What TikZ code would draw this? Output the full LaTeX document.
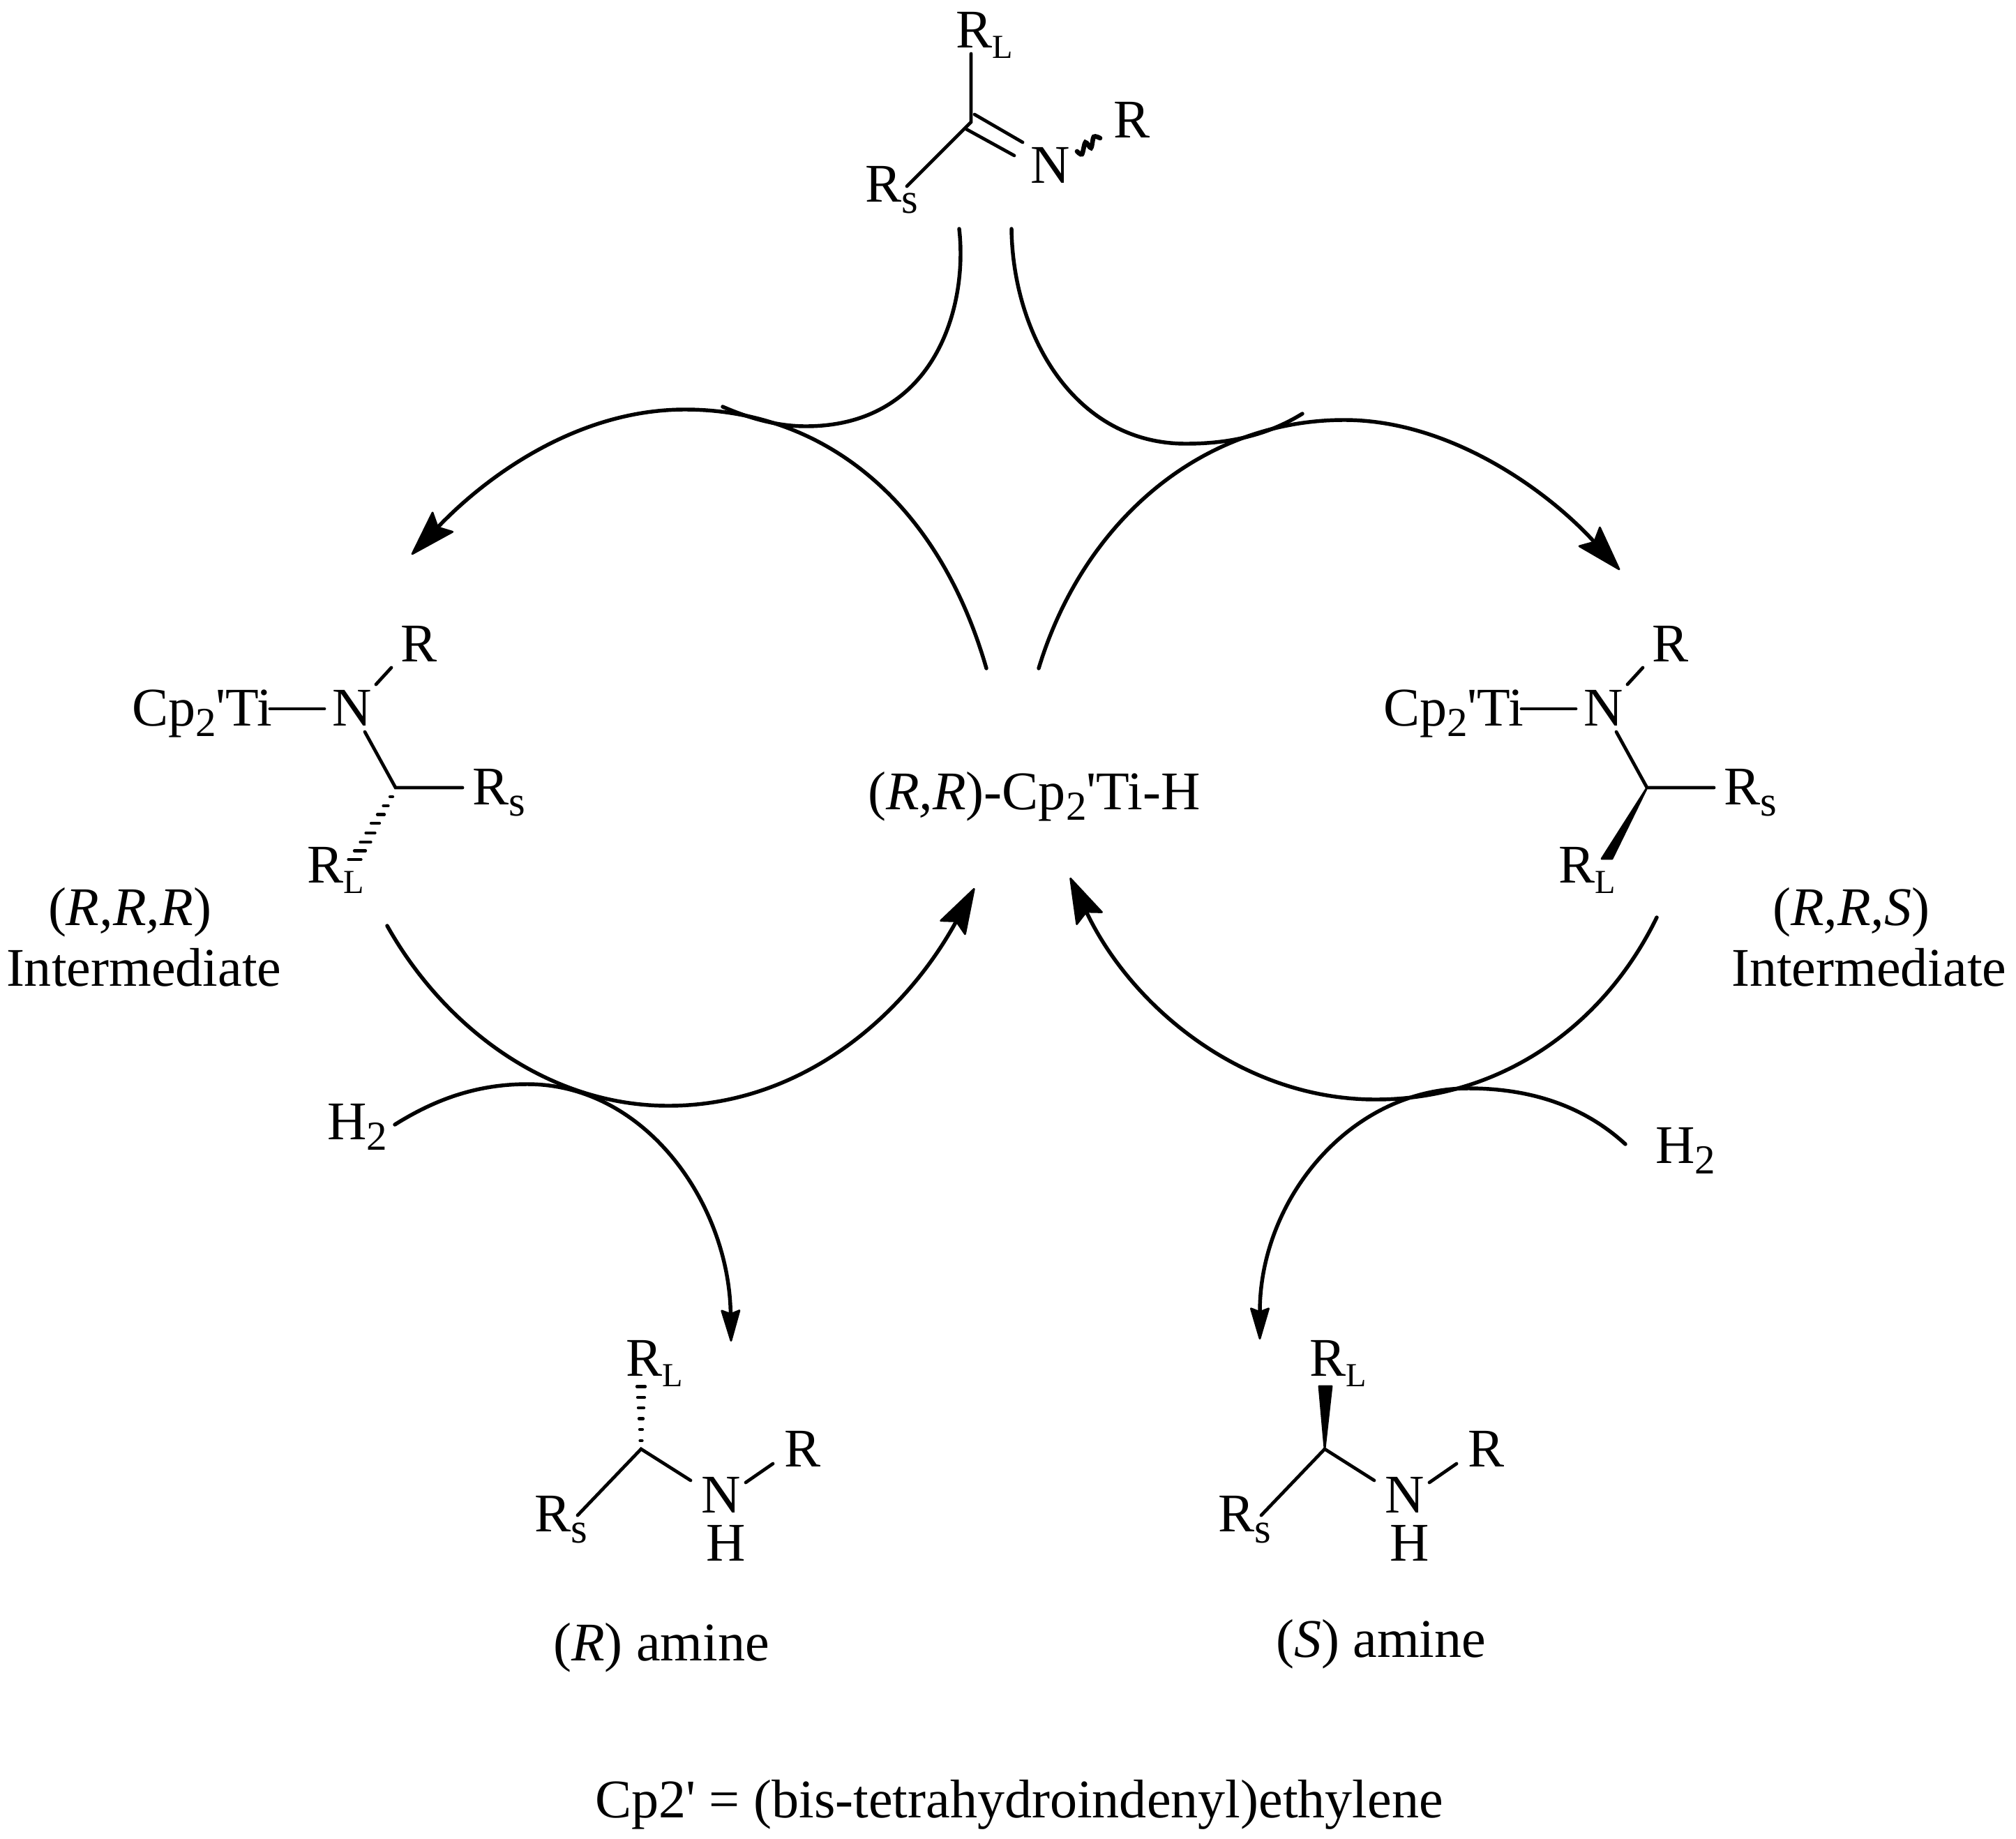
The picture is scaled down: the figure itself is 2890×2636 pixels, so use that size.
\documentclass[tikz,border=0pt]{standalone}
\usepackage{fontspec}
\setmainfont{Liberation Serif}[Ligatures=TeXOff]
\usetikzlibrary{arrows.meta}
\newcommand{\tikzpx}{\dimexpr 0.01cm\relax}
\newcommand{\subL}{\raisebox{-15\tikzpx}{\fontsize{13.7}{14}\selectfont L}}
\newcommand{\subS}{\raisebox{-16\tikzpx}{\fontsize{17.3}{18}\selectfont s}}
\newcommand{\subT}{\raisebox{-15\tikzpx}{\fontsize{16.8}{17}\selectfont 2}}
\tikzset{
  lbl/.style={anchor=base west,inner sep=0pt,outer sep=0pt,font=\fontsize{22.2}{26}\selectfont},
  bond/.style={line width=1.35pt,line cap=round,black},
  hashm/.style={line width=1.2pt,line cap=round,black},
  curve/.style={line width=1.55pt,line cap=round,black},
  bighead/.style={-{Stealth[length=0.70cm,width=0.44cm,inset=0.11cm,line width=0.8pt,round]}},
  smallhead/.style={-{Stealth[length=0.50cm,width=0.29cm,inset=0.055cm,line width=0.8pt,round]}},
}
\newcommand{\InterCore}{
  \node[lbl] (cp) at (189,1040) {Cp\subT'Ti};
  \node[lbl] (n) at (476,1040) {N};
  \node[lbl] (r) at (574,948) {R};
  \node[lbl] (rs) at (677,1153) {R\subS};
  \node[lbl] (rl) at (440,1265) {R\subL};
  \coordinate (c) at (567,1129);
  \coordinate (ti) at (387,1016);
  \coordinate (nw) at (465,1016);
  \coordinate (nr1) at (539,981);
  \coordinate (nr2) at (561,957);
  \coordinate (nc) at (523,1049);
  \coordinate (cs) at (663,1129);
  \draw[bond] (ti) -- (nw);
  \draw[bond] (nr1) -- (nr2);
  \draw[bond] (nc) -- (c) -- (cs);
}
\newcommand{\AmineCore}{
  \node[lbl] (rl) at (897,1972) {R\subL};
  \node[lbl] (rs) at (766,2195) {R\subS};
  \node[lbl] (n) at (1005,2168) {N};
  \node[lbl] (h) at (1012,2237) {H};
  \node[lbl] (r) at (1124,2102) {R};
  \coordinate (c) at (919,2077);
  \coordinate (cs) at (828,2172);
  \coordinate (cn) at (990,2122);
  \coordinate (nr1) at (1069,2125);
  \coordinate (nr2) at (1108,2098);
  \draw[bond] (cs) -- (c) -- (cn);
  \draw[bond] (nr1) -- (nr2);
}
\begin{document}
\begin{tikzpicture}[x=0.01cm,y=-0.01cm]
\useasboundingbox (0,0) rectangle (2890,2636);
% imine
\node[lbl] (irl) at (1370,68) {R\subL};
\node[lbl] (irs) at (1240,289) {R\subS};
\node[lbl] (in) at (1477,262) {N};
\node[lbl] (ir) at (1596,197) {R};
\coordinate (ic) at (1392,175);
\coordinate (il) at (1392,77);
\coordinate (is) at (1300,267);
\coordinate (id1a) at (1397,164);
\coordinate (id1b) at (1466,204);
\coordinate (id2a) at (1385,185);
\coordinate (id2b) at (1454,223);
\draw[bond] (il) -- (ic) -- (is);
\draw[bond] (id1a) -- (id1b);
\draw[bond] (id2a) -- (id2b);
\draw[line width=1.9pt,line cap=round,black] plot[smooth] coordinates {(1544,217) (1551,221) (1556,204) (1564,212) (1568,196) (1577,198)};
% left intermediate
\begin{scope}[name prefix=L-]
\InterCore
\foreach \x/\y/\w in {561/1142/2,553/1155/3.5,546/1167.5/5,538/1180/6,531/1194/6.5,524/1207/7.5,516/1219.5/8,508.5/1232/9}{
  \draw[hashm] (\x-\w,\y) -- (\x+\w,\y);
}
\end{scope}
% right intermediate
\begin{scope}[shift={(1794,0)},name prefix=R-]
\InterCore
\coordinate (w1) at (567,1129);
\coordinate (w2) at (502,1231);
\coordinate (w3) at (517,1231);
\filldraw[black,line width=0.8pt,line join=round] (w1) -- (w2) -- (w3) -- cycle;
\end{scope}
% amines
\begin{scope}[name prefix=AL-]
\AmineCore
\foreach \y/\w in {2065/1.5,2049/2,2033.5/3,2018/4,2003/5,1987.5/6}{
  \draw[hashm] (919-\w,\y) -- (919+\w,\y);
}
\end{scope}
\begin{scope}[shift={(980,0)},name prefix=AR-]
\AmineCore
\coordinate (w1) at (919,2077);
\coordinate (w2) at (911,1987);
\coordinate (w3) at (929,1987);
\filldraw[black,line width=0.8pt,line join=round] (w1) -- (w2) -- (w3) -- cycle;
\end{scope}
% labels
\node[lbl] (center) at (1244,1160) {(\textit{R,R})-Cp\subT'Ti-H};
\node[lbl] (lrrr) at (69,1326) {(\textit{R,R,R})};
\node[lbl] (lint) at (9,1413) {Intermediate};
\node[lbl] (rrrs) at (2541,1326) {(\textit{R,R,S})};
\node[lbl] (rint) at (2482,1413) {Intermediate};
\node[lbl] (h2l) at (469,1633) {H\subT};
\node[lbl] (h2r) at (2373,1667) {H\subT};
\node[lbl] (aml) at (793,2380) {(\textit{R}) amine};
\node[lbl] (amr) at (1829,2375) {(\textit{S}) amine};
\node[lbl] (foot) at (853,2605) {Cp2' = (bis-tetrahydroindenyl)ethylene};
% curves
\coordinate (a0) at (1375,328); \coordinate (a1) at (1036,583);
\coordinate (b0) at (1414,958); \coordinate (b1) at (590,795);
\coordinate (c0) at (1450,328); \coordinate (c1) at (1867,593);
\coordinate (d0) at (1489,958); \coordinate (d1) at (2322,817);
\coordinate (e0) at (555,1327); \coordinate (e1) at (1397,1273);
\coordinate (f0) at (566,1612); \coordinate (f1) at (1048,1923);
\coordinate (g0) at (2375,1315); \coordinate (g1) at (1534,1258);
\coordinate (h0) at (2330,1640); \coordinate (h1) at (1806,1920);
\draw[curve] (a0) .. controls (1388,440) and (1340,611) .. (1155,611) .. controls (1115,611) and (1075,600) .. (a1);
\draw[curve,bighead] (b0) .. controls (1345,718) and (1180,587) .. (982,587) .. controls (830,587) and (700,680) .. (b1);
\draw[curve] (c0) .. controls (1452,480) and (1540,636) .. (1700,636) .. controls (1760,636) and (1815,625) .. (c1);
\draw[curve,bighead] (d0) .. controls (1552,750) and (1720,602) .. (1927,602) .. controls (2080,602) and (2220,705) .. (d1);
\draw[curve,bighead] (e0) .. controls (637,1473) and (786,1585) .. (958,1585) .. controls (1144,1585) and (1293,1462) .. (e1);
\draw[curve,smallhead] (f0) .. controls (625,1575) and (685,1554) .. (756,1554) .. controls (925,1554) and (1045,1725) .. (f1);
\draw[curve,bighead] (g0) .. controls (2298,1473) and (2149,1576) .. (1972,1576) .. controls (1781,1576) and (1622,1443) .. (g1);
\draw[curve,smallhead] (h0) .. controls (2268,1583) and (2190,1560) .. (2105,1560) .. controls (1935,1560) and (1806,1720) .. (h1);
\end{tikzpicture}
\end{document}
